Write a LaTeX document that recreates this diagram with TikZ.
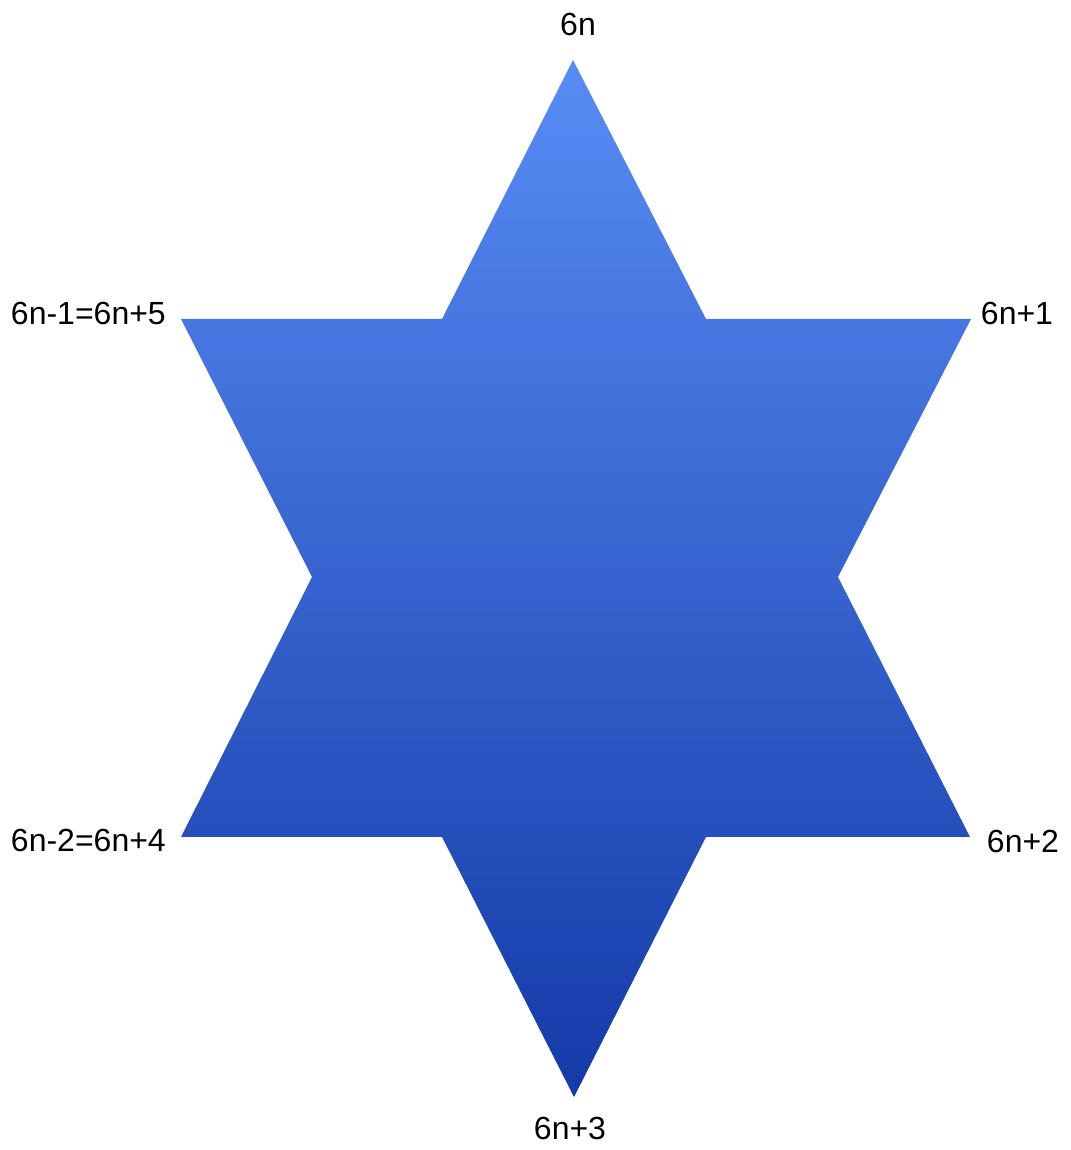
\documentclass[tikz,border=0pt]{standalone}
\usepackage{fontspec}
\setmainfont{Liberation Sans}
\begin{document}
\begin{tikzpicture}[x=1pt,y=1pt,
  lbl/.style={inner sep=0pt, font=\fontsize{32}{37}\selectfont, text=black}]
\useasboundingbox (0,0) rectangle (1070,1150);
\fill[white] (0,0) rectangle (1070,1150);
\coordinate (T) at (573,1090);
\coordinate (IUR) at (706,831);
\coordinate (OUR) at (971,831);
\coordinate (IR) at (838,573);
\coordinate (OLR) at (970,313);
\coordinate (ILR) at (706,313);
\coordinate (B) at (574,53);
\coordinate (ILL) at (442,313);
\coordinate (OLL) at (181,313);
\coordinate (IL) at (312,573);
\coordinate (OUL) at (181,831);
\coordinate (IUL) at (442,831);
\shade[top color={rgb,255:red,88;green,140;blue,245}, bottom color={rgb,255:red,20;green,58;blue,168}]
  (T) -- (IUR) -- (OUR) -- (IR) -- (OLR) -- (ILR) -- (B) -- (ILL) -- (OLL) -- (IL) -- (OUL) -- (IUL) -- cycle;
\node[lbl] (l0) at (578,1125) {6n};
\node[lbl, anchor=east] (l5) at (166,837) {6n-1=6n+5};
\node[lbl] (l1) at (1017,837) {6n+1};
\node[lbl, anchor=east] (l4) at (166,310) {6n-2=6n+4};
\node[lbl] (l2) at (1023,309) {6n+2};
\node[lbl] (l3) at (570,22) {6n+3};
\end{tikzpicture}
\end{document}
